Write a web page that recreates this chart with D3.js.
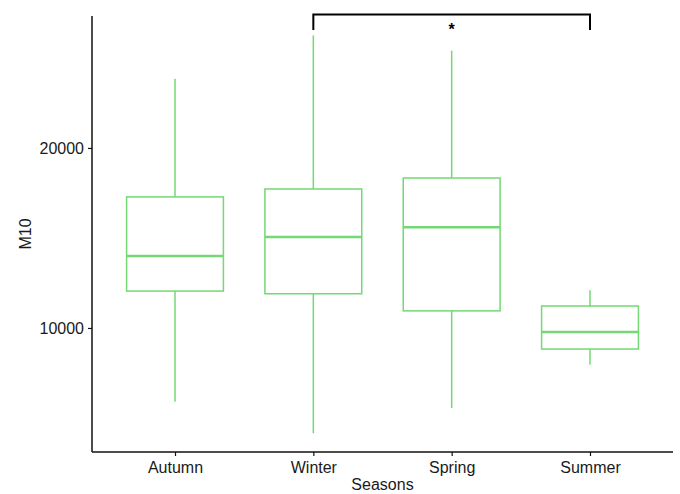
<!DOCTYPE html>
<html>
<head>
<meta charset="utf-8">
<script src="https://cdn.jsdelivr.net/npm/d3@7"></script>
<style>
  body { margin: 0; background: #fff; }
  svg { font-family: Arial, "Liberation Sans", sans-serif; }
</style>
</head>
<body>
<div id="chart"></div>
<script>
// values
const seasons = ['Autumn', 'Winter', 'Spring', 'Summer'];
const whiskerLow = [5900, 4150, 5550, 7950];
const q1 = [12050, 11900, 10950, 8830];
const median = [14000, 15050, 15600, 9780];
const q3 = [17280, 17720, 18330, 11220];
const whiskerHigh = [23850, 26250, 25400, 12100];
const yTicks = [10000, 20000];
// significance bracket: Winter vs Summer
const bracket = {from: 'Winter', to: 'Summer', top: 27420, drop: 26550, label: '*'};

const width = 680, height = 494;
const margin = {top: 16, right: 7, bottom: 42, left: 92};
const green = '#74d874';

const svg = d3.select('#chart').append('svg')
  .attr('width', width)
  .attr('height', height);

const innerW = width - margin.left - margin.right;
const innerH = height - margin.top - margin.bottom;

const g = svg.append('g')
  .attr('transform', `translate(${margin.left},${margin.top})`);

const x = d3.scalePoint()
  .domain(seasons)
  .range([0, innerW])
  .padding(0.6);

const y = d3.scaleLinear()
  .domain([3110, 27330])
  .range([innerH, 0]);

const boxW = x.step() * 0.7;

const data = seasons.map((s, i) => ({
  season: s, lo: whiskerLow[i], q1: q1[i], med: median[i], q3: q3[i], hi: whiskerHigh[i]
}));

const box = g.selectAll('g.box')
  .data(data)
  .enter()
  .append('g')
  .attr('class', 'box')
  .attr('transform', d => `translate(${x(d.season)},0)`);

// whiskers
box.append('line')
  .attr('x1', 0).attr('x2', 0)
  .attr('y1', d => y(d.hi)).attr('y2', d => y(d.q3))
  .attr('stroke', green).attr('stroke-width', 1.5);
box.append('line')
  .attr('x1', 0).attr('x2', 0)
  .attr('y1', d => y(d.q1)).attr('y2', d => y(d.lo))
  .attr('stroke', green).attr('stroke-width', 1.5);

box.append('rect')
  .attr('x', -boxW / 2)
  .attr('width', boxW)
  .attr('y', d => y(d.q3))
  .attr('height', d => y(d.q1) - y(d.q3))
  .attr('fill', 'none')
  .attr('stroke', green)
  .attr('stroke-width', 1.5);

box.append('line')
  .attr('x1', -boxW / 2).attr('x2', boxW / 2)
  .attr('y1', d => y(d.med)).attr('y2', d => y(d.med))
  .attr('stroke', green).attr('stroke-width', 2.5);

// axes
const xAxis = g.append('g')
  .attr('transform', `translate(0,${innerH})`)
  .call(d3.axisBottom(x).tickSize(4).tickPadding(6));
const yAxis = g.append('g')
  .call(d3.axisLeft(y).tickValues(yTicks).tickFormat(d3.format('d')).tickSize(4).tickPadding(4));

[xAxis, yAxis].forEach(a => {
  a.select('.domain').attr('stroke', '#111').attr('stroke-width', 1.5);
  a.selectAll('.tick line').attr('stroke', '#111').attr('stroke-width', 1.2);
  a.selectAll('.tick text').attr('fill', '#1a1a1a').style('font-size', '16px');
});
// ggplot style: axis lines span whole panel
xAxis.select('.domain').attr('d', `M0,0H${innerW}`);
yAxis.select('.domain').attr('d', `M0,${innerH}V0`);

svg.append('text')
  .attr('x', margin.left + innerW / 2)
  .attr('y', height - 4)
  .attr('text-anchor', 'middle')
  .attr('fill', '#1a1a1a')
  .style('font-size', '16px')
  .text('Seasons');

svg.append('text')
  .attr('transform', `translate(31,${margin.top + innerH / 2}) rotate(-90)`)
  .attr('text-anchor', 'middle')
  .attr('fill', '#1a1a1a')
  .style('font-size', '16px')
  .text('M10');

// bracket
const bx1 = x(bracket.from), bx2 = x(bracket.to);
g.append('path')
  .attr('d', `M${bx1},${y(bracket.drop)}V${y(bracket.top)}H${bx2}V${y(bracket.drop)}`)
  .attr('fill', 'none')
  .attr('stroke', '#000')
  .attr('stroke-width', 2);
g.append('text')
  .attr('x', (bx1 + bx2) / 2)
  .attr('y', y(bracket.top) + 21)
  .attr('text-anchor', 'middle')
  .style('font-size', '16px')
  .style('font-weight', 'bold')
  .text(bracket.label);
</script>
</body>
</html>
